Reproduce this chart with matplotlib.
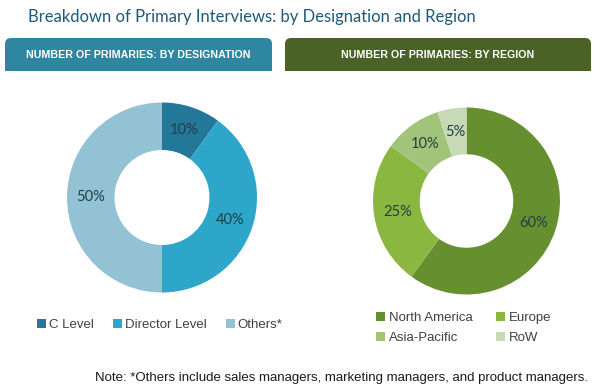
import matplotlib.pyplot as plt
from matplotlib.patches import FancyBboxPatch, Rectangle

# data
designations = ['C Level', 'Director Level', 'Others*']
designation_share = [10, 40, 50]
designation_colors = ['#23789a', '#2ea6ca', '#93c2d5']

regions = ['North America', 'Europe', 'Asia-Pacific', 'RoW']
region_share = [60, 25, 10, 5]
region_colors = ['#66902f', '#8ab73f', '#a2c47a', '#c8dab5']

W, H = 600, 390

fig = plt.figure(figsize=(W / 100, H / 100), dpi=100)
fig.patch.set_facecolor('white')

# full-figure axes in pixel units for title, headers and note
bg = fig.add_axes([0, 0, 1, 1])
bg.set_xlim(0, W)
bg.set_ylim(H, 0)
bg.axis('off')

bg.text(28, 17, 'Breakdown of Primary Interviews: by Designation and Region',
        ha='left', va='center', fontsize=12, color='#1e5a78', family='Lato')


def header(x0, x1, color, text):
  box = FancyBboxPatch((x0, 38), x1 - x0, 33,
                       boxstyle='round,pad=0,rounding_size=6',
                       fc=color, ec='none')
  bg.add_patch(box)
  bg.add_patch(Rectangle((x0, 55), x1 - x0, 16, fc=color, ec='none'))
  bg.text((x0 + x1) / 2, 55, text, ha='center', va='center', color='white',
          fontsize=7.7, fontweight='bold', family='Liberation Sans')


header(5, 272, '#2f86a0', 'NUMBER OF PRIMARIES: BY DESIGNATION')
header(285, 591, '#4b6227', 'NUMBER OF PRIMARIES: BY REGION')


def donut(cx, cy, r, values, colors):
  ax = fig.add_axes([(cx - r) / W, 1 - (cy + r) / H, 2 * r / W, 2 * r / H])
  wedges, _, _ = ax.pie(values, colors=colors, startangle=90, counterclock=False,
                        radius=1, wedgeprops=dict(width=0.5, edgecolor='none'),
                        autopct='%.0f%%', pctdistance=0.75,
                        textprops=dict(fontsize=10.5, color='#1f3f45', family='Lato'))
  ax.set_xlim(-1, 1)
  ax.set_ylim(-1, 1)
  return wedges


w1 = donut(162, 197.5, 95, designation_share, designation_colors)
w2 = donut(466.5, 201, 93.5, region_share, region_colors)

fig.legend(w1, designations, loc='center left', bbox_to_anchor=(25 / W, 1 - 325 / H),
           ncol=3, frameon=False, handlelength=0.7, handleheight=0.7,
           handletextpad=0.2, columnspacing=1.45,
           labelcolor='#404040', prop=dict(family='Liberation Sans', size=9.5))

# legend fills column by column, so order the handles to read row by row
order = [0, 2, 1, 3]
fig.legend([w2[i] for i in order], [regions[i] for i in order],
           loc='center left', bbox_to_anchor=(364 / W, 1 - 328 / H),
           ncol=2, frameon=False, handlelength=0.7, handleheight=0.7,
           handletextpad=0.3, columnspacing=1.75, labelspacing=0.6,
           labelcolor='#404040', prop=dict(family='Liberation Sans', size=9.5))

bg.text(588, 378, 'Note: *Others include sales managers, marketing managers, and product managers.',
        ha='right', va='center', fontsize=9.5, color='#1a1a1a', family='Liberation Sans')

fig.savefig('out.png', dpi=100)
